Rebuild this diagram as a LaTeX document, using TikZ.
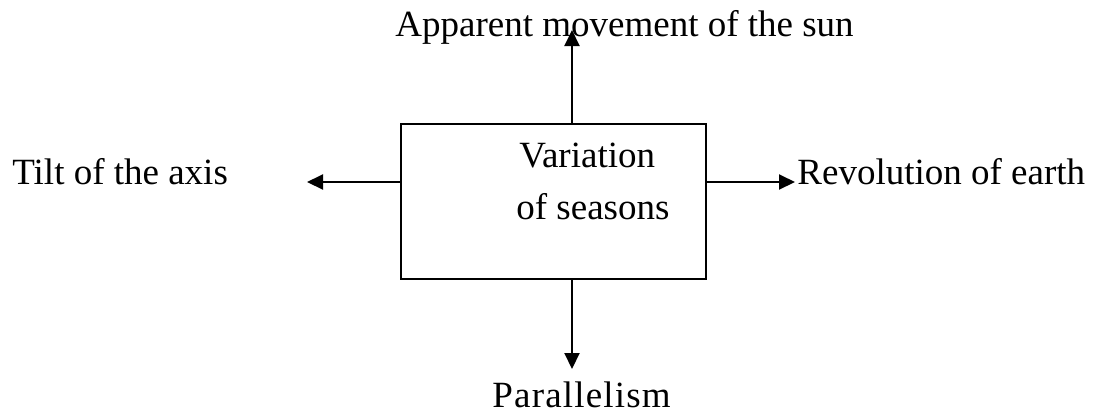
\documentclass[tikz,border=0pt]{standalone}
\usepackage{fontspec}
\setmainfont{Liberation Serif}
\usetikzlibrary{arrows.meta}
\begin{document}
\begin{tikzpicture}[x=0.5pt,y=-0.5pt,
  lbl/.style={anchor=base west, inner sep=0pt, font=\fontsize{18.5}{22}\selectfont},
  boxnode/.style={draw, line width=1pt, minimum width=152.5pt, minimum height=77.5pt, inner sep=0pt},
  conn/.style={line width=1pt, -{Triangle[length=8pt,width=7.5pt]}}]
\useasboundingbox (0,0) rectangle (1098,414);
\node[boxnode] (box) at (553.5,201.5) {};
\node[lbl] (v1) at (519,167.7) {Variation};
\node[lbl] (v2) at (516,219) {of seasons};
\node[lbl] (top) at (395,36) {Apparent movement of the sun};
\node[lbl] (tilt) at (12,184) {Tilt of the axis};
\node[lbl] (rev) at (797,184) {Revolution of earth};
\node[lbl] (par) at (492,407.5) {\addfontfeature{LetterSpace=3.2}Parallelism};
\coordinate (topend) at (572,30);
\coordinate (leftend) at (307,182);
\coordinate (rightend) at (795,182);
\coordinate (botend) at (572,369);
\draw[conn] (box.north -| topend) -- (topend);
\draw[conn] (box.west |- leftend) -- (leftend);
\draw[conn] (box.east |- rightend) -- (rightend);
\draw[conn] (box.south -| botend) -- (botend);
\end{tikzpicture}
\end{document}
